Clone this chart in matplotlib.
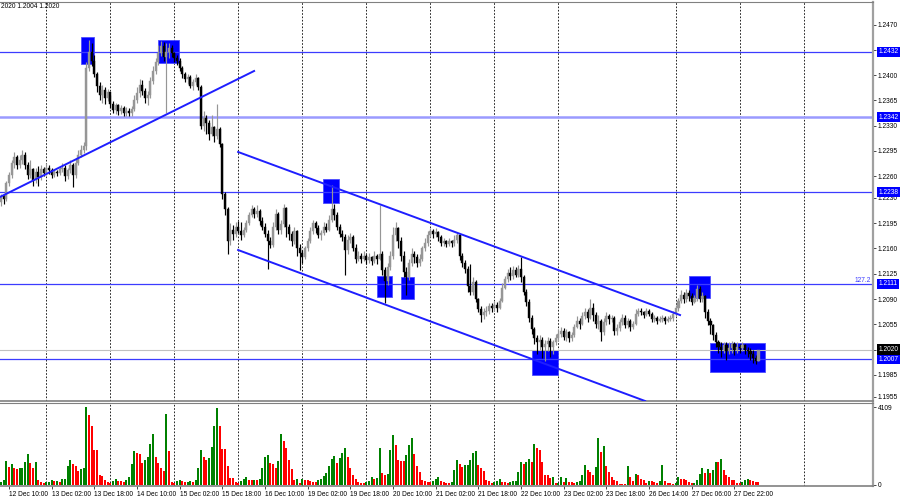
import matplotlib
matplotlib.use('Agg')
import matplotlib.pyplot as plt
import matplotlib.transforms as mtransforms
from matplotlib.patches import Rectangle

plt.rcParams['font.family'] = ['Liberation Sans', 'DejaVu Sans']

# EURUSD H1, prices kept in pips above 1.2000
base = 1.2000
sessions = [('12 Dec', 7, 17), ('13 Dec', 0, 24), ('14 Dec', 0, 24), ('15 Dec', 0, 24),
            ('16 Dec', 0, 24), ('19 Dec', 0, 24), ('20 Dec', 0, 24), ('21 Dec', 0, 24),
            ('22 Dec', 0, 24), ('23 Dec', 0, 24), ('26 Dec', 4, 20), ('27 Dec', 0, 24),
            ('28 Dec', 0, 8)]

first_open = 225
closes = [
    232, 228, 250, 262, 278, 286, 275, 282, 290, 276, 262, 270, 255, 266, 259, 270, 265,
    272, 268, 262, 266, 264, 270, 272, 260, 268, 276, 262, 278, 290, 296, 302, 410, 432, 420, 402, 385, 372, 380, 368, 376,
    360, 352, 358, 350, 354, 348, 351, 347, 353, 366, 375, 386, 378, 368, 372, 392, 405, 418, 430, 440, 425, 432, 438, 430,
    424, 419, 410, 402, 394, 398, 385, 390, 396, 384, 330, 340, 334, 318, 328, 316, 326, 304, 236, 215, 170, 186, 180, 190,
    184, 178, 186, 195, 206, 214, 208, 212, 198, 190, 180, 170, 165, 190, 208, 186, 194, 216, 190, 180, 170, 184, 160, 154,
    148, 160, 170, 184, 195, 188, 178, 182, 190, 186, 200, 214, 206, 190, 180, 176, 158, 172, 176, 160, 146, 150, 146, 150,
    144, 148, 142, 150, 146, 152, 130, 115, 135, 150, 178, 188, 170, 150, 128, 120, 140, 152, 148, 140, 146, 160, 168, 178,
    184, 180, 183, 176, 168, 170, 166, 170, 167, 172, 178, 150, 140, 132, 108, 100, 114, 90, 76, 68, 72, 74, 80, 78,
    82, 78, 88, 106, 118, 126, 122, 130, 124, 132, 120, 100, 86, 64, 48, 36, 30, 34, 24, 28, 32, 24, 30, 36,
    42, 46, 38, 44, 36, 40, 52, 60, 56, 66, 72, 64, 78, 68, 56, 60, 44, 58, 66, 62, 64, 46, 50, 58,
    64, 54, 60, 52, 56, 70, 74, 72, 68, 74, 70, 62, 64, 60, 62, 64, 60, 62, 64, 70,
    78, 88, 96, 90, 98, 94, 86, 92, 104, 90, 94, 72, 60, 54, 40, 30, 24, 20, 26, 18, 22, 28, 20, 24,
    22, 26, 20, 18, 14, 8, 4, 20,
]
highs = [
    236, 236, 253, 266, 283, 293, 290, 289, 296, 294, 280, 283, 272, 271, 274, 275, 273,
    279, 276, 272, 270, 269, 274, 278, 276, 272, 282, 279, 285, 296, 303, 307, 418, 449, 445, 428, 404, 390, 386, 383, 381,
    372, 364, 362, 360, 358, 357, 356, 354, 357, 372, 384, 395, 393, 382, 378, 398, 412, 424, 442, 447, 446, 445, 444, 442,
    432, 428, 423, 412, 404, 402, 400, 395, 402, 398, 386, 350, 345, 338, 345, 330, 360, 328, 306, 238, 218, 195, 192, 196,
    198, 196, 190, 200, 211, 220, 218, 220, 215, 204, 195, 186, 176, 196, 214, 210, 200, 222, 218, 194, 184, 190, 186, 166,
    158, 164, 174, 190, 200, 198, 192, 186, 196, 195, 206, 248, 222, 210, 194, 186, 180, 178, 182, 178, 166, 156, 154, 156,
    152, 154, 150, 156, 152, 220, 156, 134, 140, 156, 190, 196, 190, 176, 156, 134, 146, 160, 156, 152, 152, 164, 174, 184,
    188, 187, 188, 184, 178, 174, 172, 175, 172, 178, 182, 180, 154, 144, 136, 138, 120, 116, 92, 80, 78, 80, 84, 84,
    88, 86, 92, 112, 122, 132, 134, 136, 134, 137, 148, 124, 104, 90, 68, 52, 40, 40, 38, 34, 38, 36, 34, 42,
    48, 52, 50, 48, 46, 44, 56, 66, 64, 72, 78, 76, 90, 84, 72, 68, 62, 64, 72, 70, 68, 66, 56, 62,
    70, 68, 64, 62, 60, 76, 78, 78, 74, 78, 76, 72, 68, 66, 66, 68, 66, 66, 68, 74,
    82, 92, 102, 100, 104, 102, 98, 96, 110, 108, 100, 96, 76, 64, 56, 44, 34, 30, 30, 30, 30, 32, 30, 30,
    28, 30, 28, 24, 22, 20, 12, 20,
]
lows = [
    219, 222, 226, 246, 258, 272, 270, 271, 277, 270, 256, 258, 247, 250, 246, 255, 260,
    262, 263, 258, 259, 260, 262, 266, 254, 256, 265, 245, 258, 276, 286, 292, 297, 405, 412, 398, 376, 365, 362, 360, 364,
    355, 348, 346, 345, 346, 343, 344, 343, 344, 350, 362, 370, 372, 361, 358, 368, 388, 402, 414, 426, 420, 348, 424, 425,
    418, 414, 405, 396, 390, 388, 382, 379, 386, 380, 325, 322, 318, 310, 316, 308, 312, 300, 228, 206, 153, 165, 172, 176,
    182, 172, 176, 183, 193, 204, 202, 204, 193, 186, 176, 132, 160, 162, 186, 180, 180, 190, 176, 172, 163, 166, 150, 130,
    140, 146, 156, 168, 180, 182, 174, 172, 178, 183, 184, 196, 200, 186, 176, 170, 124, 152, 168, 156, 140, 142, 140, 143,
    138, 140, 137, 140, 138, 144, 124, 85, 110, 130, 146, 170, 160, 142, 120, 96, 116, 136, 140, 134, 136, 142, 156, 164,
    176, 175, 176, 170, 164, 164, 162, 164, 162, 164, 168, 144, 134, 126, 100, 96, 96, 86, 72, 58, 62, 66, 70, 72,
    74, 72, 76, 86, 104, 114, 116, 118, 120, 120, 114, 96, 80, 58, 42, 28, 14, 20, 8, 4, 18, 10, 14, 26,
    32, 38, 34, 32, 30, 32, 38, 50, 48, 54, 62, 58, 62, 60, 50, 48, 32, 40, 54, 56, 58, 40, 40, 46,
    54, 50, 50, 46, 48, 54, 66, 68, 64, 66, 66, 58, 58, 56, 58, 58, 56, 58, 60, 60,
    66, 74, 84, 84, 86, 88, 82, 84, 88, 86, 86, 64, 54, 42, 34, 24, 16, 10, 16, 6, 14, 16, 12, 16,
    16, 18, 14, 10, 6, 2, 0, 4,
]
volumes = [
    140, 260, 1265, 950, 1090, 880, 850, 870, 880, 1230, 1630, 1180, 880, 1230, 260, 180, 100,
    140, 180, 280, 200, 220, 160, 300, 320, 1020, 1300, 1090, 1000, 750, 830, 880, 4109, 3690, 3110, 1850, 1850, 530, 480, 260, 180,
    120, 200, 300, 230, 200, 160, 260, 420, 1110, 1790, 1700, 1630, 1180, 1320, 1450, 2140, 2700, 1500, 1150, 880, 750, 3720, 1790, 160,
    120, 200, 260, 220, 140, 150, 200, 180, 260, 880, 1845, 1490, 1320, 1400, 2010, 3110, 4050, 3110, 1900, 1880, 1000, 350, 350, 150,
    100, 200, 300, 420, 260, 250, 260, 240, 320, 900, 1490, 1580, 1180, 1110, 880, 1270, 2690, 2340, 1930, 1320, 830, 265, 330, 120,
    300, 280, 260, 230, 180, 160, 260, 320, 450, 620, 1000, 1380, 1550, 1180, 1400, 1680, 1930, 1490, 880, 530, 320, 175, 120, 100,
    180, 220, 400, 300, 350, 1930, 620, 530, 580, 1845, 2635, 2110, 1320, 1270, 1265, 1580, 2110, 2460, 1630, 1000, 700, 265, 200, 150,
    150, 220, 300, 420, 200, 160, 120, 100, 150, 790, 1320, 1090, 930, 1050, 1060, 1320, 1700, 1790, 1050, 880, 760, 265, 230, 100,
    150, 200, 300, 160, 150, 120, 180, 200, 220, 700, 1230, 1100, 1200, 1390, 1200, 2160, 1930, 1845, 1230, 530, 520, 350, 400, 100,
    120, 400, 180, 350, 180, 150, 120, 180, 200, 530, 1050, 790, 700, 530, 930, 2460, 1760, 2040, 1000, 700, 400, 265, 200, 50,
    50, 30, 1000, 440, 200, 580, 540, 310, 280, 120, 200, 200, 150, 120, 200, 1050, 200, 120, 80, 60,
    100, 440, 330, 320, 260, 180, 100, 130, 265, 580, 880, 650, 860, 630, 770, 1230, 1200, 1390, 790, 510, 400, 265, 250, 100,
    100, 180, 270, 300, 240, 200, 180, 170,
]

time_labels = ['12 Dec 10:00', '13 Dec 02:00', '13 Dec 18:00', '14 Dec 10:00', '15 Dec 02:00',
               '15 Dec 18:00', '16 Dec 10:00', '19 Dec 02:00', '19 Dec 18:00', '20 Dec 10:00',
               '21 Dec 02:00', '21 Dec 18:00', '22 Dec 10:00', '23 Dec 02:00', '23 Dec 18:00',
               '26 Dec 14:00', '27 Dec 06:00', '27 Dec 22:00']

price_ticks = [1.2470, 1.2435, 1.2400, 1.2365, 1.2330, 1.2295, 1.2260, 1.2230, 1.2195, 1.2160,
               1.2125, 1.2090, 1.2055, 1.2020, 1.1985, 1.1955]
levels = [1.2432, 1.2342, 1.2238, 1.2111, 1.2007]
current_price = 1.2020
fibo_text = '127.2'

# drawn objects, (bar, price)
support_line = [(-0.4, 1.22313), (94.9, 1.24057)]
channel_top = [(88.9, 1.22936), (254.6, 1.20679)]
channel_bottom = [(88.9, 1.21579), (241.5, 1.19489)]
# zones: bar from, bar to, price low, price high
zones = [(30.0, 34.9, 1.24154, 1.24528), (58.9, 66.7, 1.24168, 1.24486),
         (120.7, 126.7, 1.22229, 1.22562), (141.0, 146.6, 1.20930, 1.21220),
         (150.0, 154.9, 1.20900, 1.21205), (199.1, 208.9, 1.19849, 1.20195),
         (258.0, 265.8, 1.20915, 1.21220), (265.8, 286.5, 1.19890, 1.20292)]

# bar times
times = []
for day, h0, n in sessions:
    for h in range(h0, h0 + n):
        times.append('%s %02d:00' % (day, h))

o = [base + v / 10000 for v in [first_open] + closes[:-1]]
c = [base + v / 10000 for v in closes]
hi = [base + v / 10000 for v in highs]
lo = [base + v / 10000 for v in lows]
x = list(range(len(times)))

fig = plt.figure(figsize=(9, 5), dpi=100)
ax = fig.add_axes([0, 99 / 500, 873 / 900, 399 / 500])
axv = fig.add_axes([0, 14 / 500, 873 / 900, 83 / 500])

up_col = '#969696'
cols = [up_col if cc >= oo else 'black' for oo, cc in zip(o, c)]
ax.vlines(x, lo, hi, colors=cols, lw=0.85, zorder=3)
ax.bar(x, [abs(cc - oo) for oo, cc in zip(o, c)], bottom=[min(oo, cc) for oo, cc in zip(o, c)],
       width=0.8, color=cols, edgecolor=cols, lw=0.3, zorder=4)

for x0, x1, p0, p1 in zones:
    ax.add_patch(Rectangle((x0, p0), x1 - x0, p1 - p0, fc='#0000ff', ec='#4d4dff', lw=0.6, zorder=2))

for lv in levels:
    if lv == 1.2342:
        ax.axhline(lv, color='#9a9aff', lw=1.8, zorder=2.5)
    else:
        ax.axhline(lv, color='#3c3cff', lw=0.9, zorder=2.5)
ax.axhline(current_price, color='#c0c0c0', lw=0.8, zorder=2.5)

for line in (support_line, channel_top, channel_bottom):
    ax.plot([p[0] for p in line], [p[1] for p in line], color='#1e1eff', lw=1.4, zorder=6)

# day separators
seps = [i for i, t in enumerate(times) if t.endswith(' 00:00')]
last_hour = int(times[-1][-5:-3])
seps.append(len(times) + 23 - last_hour)
for s in seps:
    ax.axvline(s, color='black', lw=0.6, ls=(0, (2, 2)), zorder=1)
    axv.axvline(s, color='black', lw=0.6, ls=(0, (2, 2)), zorder=1)

xlim = (-0.375, 326.95)
ax.set_xlim(*xlim)
ax.set_ylim(1.19489, 1.25012)
ax.set_xticks([])
ax.yaxis.tick_right()
ax.set_yticks(price_ticks)
ax.set_yticklabels(['%.4f' % t for t in price_ticks])
ax.tick_params(axis='y', length=2, width=0.5, pad=1.5, labelsize=4.8, colors='black')

trans = mtransforms.blended_transform_factory(ax.transAxes, ax.transData)
for lv in levels:
    ax.text(1.006, lv, '%.4f' % lv, transform=trans, fontsize=4.8, color='white', va='center', ha='left',
            bbox=dict(boxstyle='square,pad=0.25', fc='#0000ff', ec='none'), zorder=10)
ax.text(1.006, current_price, '%.4f' % current_price, transform=trans, fontsize=4.8, color='white',
        va='center', ha='left', bbox=dict(boxstyle='square,pad=0.25', fc='black', ec='none'), zorder=10)
ax.text(0.998, levels[3] + 0.00005, fibo_text, transform=trans, fontsize=4.8, color='#3c3cff',
        ha='right', va='bottom')

# volumes
vcols = ['green'] + ['green' if v > pv else 'red' for pv, v in zip(volumes[:-1], volumes[1:])]
axv.bar(x, volumes, width=0.72, color=vcols, zorder=3)
axv.set_xlim(*xlim)
axv.set_ylim(-53, 4320)
axv.yaxis.tick_right()
axv.set_yticks([0, max(volumes)])
axv.set_yticklabels(['0', str(max(volumes))])
axv.tick_params(axis='y', length=2, width=0.5, pad=1.5, labelsize=4.8)
axv.set_xticks([times.index(t) for t in time_labels])
axv.set_xticklabels(time_labels)
axv.tick_params(axis='x', length=2, width=0.5, pad=1.5, labelsize=4.8)
for lbl in axv.get_xticklabels():
    lbl.set_ha('left')

for a in (ax, axv):
    a.spines['left'].set_visible(False)
    a.spines['top'].set_color('#808080')
    a.spines['bottom'].set_color('#808080')
    a.spines['right'].set_color('#a0a0a0')
    a.spines['right'].set_linewidth(1.6)
    a.spines['bottom'].set_linewidth(1.2)

fig.text(0.001, 1 - 7 / 500, '2020 1.2004 1.2020', fontsize=4.8, va='center', ha='left')

fig.savefig('out.png', dpi=100)
